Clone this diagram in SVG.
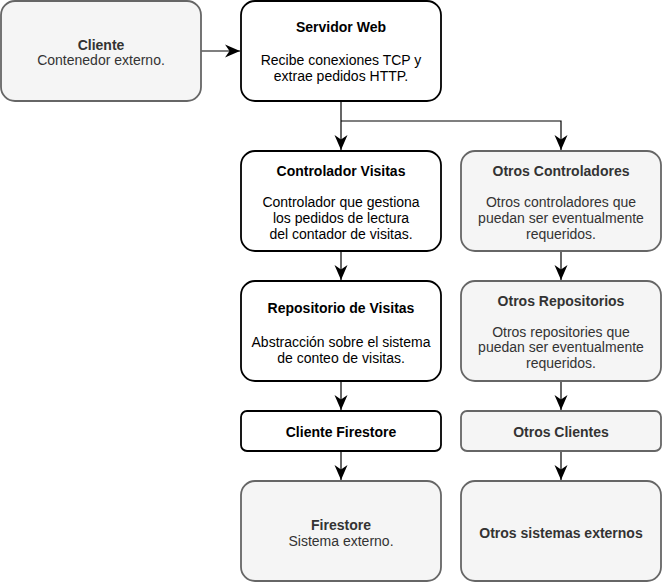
<svg xmlns="http://www.w3.org/2000/svg" width="662" height="582" viewBox="0 0 662 582">
<defs>
<marker id="arr" markerUnits="userSpaceOnUse" markerWidth="20" markerHeight="20" refX="15" refY="6.5" orient="auto" viewBox="0 0 20 13">
<path d="M15,6.5 L0,0 L4.5,6.5 L0,13 Z" fill="#000"/>
</marker>
<style>
text{font-family:"Liberation Sans",Arial,Helvetica,sans-serif;font-size:14px;text-anchor:middle}
.b{font-weight:bold}
.w{fill:#fff;stroke:#000;stroke-width:1.8}
.g{fill:#f5f5f5;stroke:#666;stroke-width:1.8}
.tg{fill:#333}
.tb{fill:#000}
.c{fill:none;stroke:#000;stroke-width:1.2}
</style>
</defs>
<rect width="662" height="582" fill="#fff"/>
<g id="connectors">
<path class="c" d="M201,51 H240" marker-end="url(#arr)"/>
<path class="c" d="M341,101 V150" marker-end="url(#arr)"/>
<path class="c" d="M341,121 H561 V150" marker-end="url(#arr)"/>
<path class="c" d="M341,251 V280" marker-end="url(#arr)"/>
<path class="c" d="M561,251 V280" marker-end="url(#arr)"/>
<path class="c" d="M341,381 V410" marker-end="url(#arr)"/>
<path class="c" d="M561,381 V410" marker-end="url(#arr)"/>
<path class="c" d="M341,451 V480" marker-end="url(#arr)"/>
<path class="c" d="M561,451 V480" marker-end="url(#arr)"/>
</g>
<g id="cliente">
<rect class="g" x="1" y="1" width="200" height="100" rx="14"/>
<text class="tg b" x="101" y="50">Cliente</text>
<text class="tg" x="101" y="65">Contenedor externo.</text>
</g>
<g id="servidor">
<rect class="w" x="241" y="1" width="200" height="100" rx="14"/>
<text class="tb b" x="341" y="32">Servidor Web</text>
<text class="tb" x="341" y="65">Recibe conexiones TCP y</text>
<text class="tb" x="341" y="81">extrae pedidos HTTP.</text>
</g>
<g id="controlador">
<rect class="w" x="241" y="151" width="200" height="100" rx="14"/>
<text class="tb b" x="341" y="176">Controlador Visitas</text>
<text class="tb" x="341" y="207">Controlador que gestiona</text>
<text class="tb" x="341" y="223">los pedidos de lectura</text>
<text class="tb" x="341" y="239">del contador de visitas.</text>
</g>
<g id="otros-controladores">
<rect class="g" x="461" y="151" width="200" height="100" rx="14"/>
<text class="tg b" x="561" y="176">Otros Controladores</text>
<text class="tg" x="561" y="207">Otros controladores que</text>
<text class="tg" x="561" y="223">puedan ser eventualmente</text>
<text class="tg" x="561" y="239">requeridos.</text>
</g>
<g id="repositorio">
<rect class="w" x="241" y="281" width="200" height="100" rx="14"/>
<text class="tb b" x="341" y="313">Repositorio de Visitas</text>
<text class="tb" x="341" y="347">Abstracción sobre el sistema</text>
<text class="tb" x="341" y="363">de conteo de visitas.</text>
</g>
<g id="otros-repositorios">
<rect class="g" x="461" y="281" width="200" height="100" rx="14"/>
<text class="tg b" x="561" y="306">Otros Repositorios</text>
<text class="tg" x="561" y="337">Otros repositories que</text>
<text class="tg" x="561" y="352">puedan ser eventualmente</text>
<text class="tg" x="561" y="368">requeridos.</text>
</g>
<g id="cliente-firestore">
<rect class="w" x="241" y="411" width="200" height="40" rx="6"/>
<text class="tb b" x="341" y="437">Cliente Firestore</text>
</g>
<g id="otros-clientes">
<rect class="g" x="461" y="411" width="200" height="40" rx="6"/>
<text class="tg b" x="561" y="437">Otros Clientes</text>
</g>
<g id="firestore">
<rect class="g" x="241" y="481" width="200" height="100" rx="14"/>
<text class="tg b" x="341" y="530">Firestore</text>
<text class="tg" x="341" y="546">Sistema externo.</text>
</g>
<g id="otros-sistemas">
<rect class="g" x="461" y="481" width="200" height="100" rx="14"/>
<text class="tg b" x="561" y="538">Otros sistemas externos</text>
</g>
</svg>
